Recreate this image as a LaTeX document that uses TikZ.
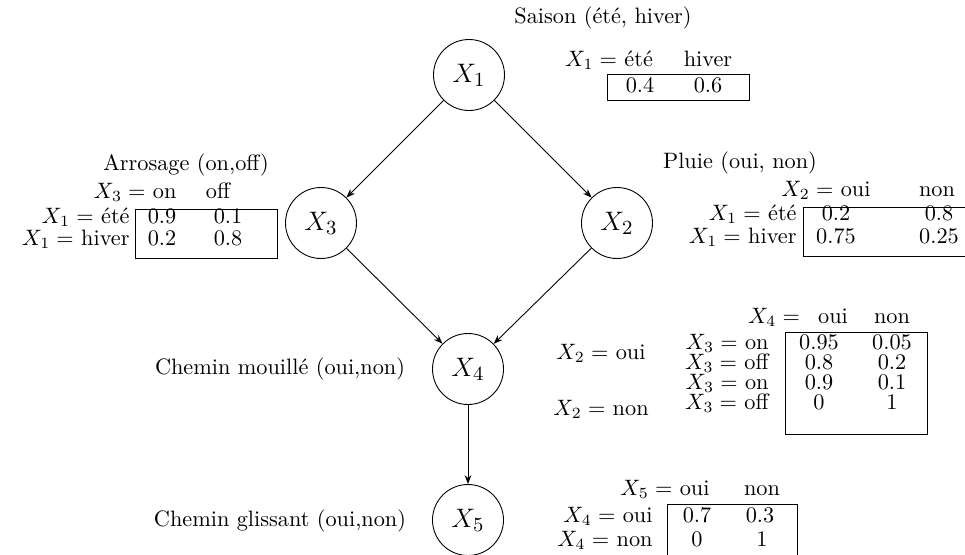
\documentclass[tikz,border=0pt]{standalone}
\usetikzlibrary{arrows.meta}
\begin{document}
\begin{tikzpicture}[x=0.449pt,y=-0.449pt,
  var/.style={circle,draw,minimum size=71*0.449pt,inner sep=0pt,font=\fontsize{13.2}{16}\selectfont},
  lbl/.style={inner sep=0pt,anchor=center,text height=6.9pt,text depth=2pt},
  rowlbl/.style={lbl,anchor=east},
  tbox/.style={draw,line width=0.4pt},
  edge/.style={-{Stealth[length=4pt,width=3pt]},line width=0.4pt}]
\useasboundingbox (0,0) rectangle (965,554);
% variables
\node[var] (x1) at (469,75) {$X_1$};
\node[var] (x3) at (321,223) {$X_3$};
\node[var] (x2) at (617,223) {$X_2$};
\node[var] (x4) at (468,369) {$X_4$};
\node[var] (x5) at (468,520) {$X_5$};
\draw[edge] (x1) -- (x3);
\draw[edge] (x1) -- (x2);
\draw[edge] (x3) -- (x4);
\draw[edge] (x2) -- (x4);
\draw[edge] (x4) -- (x5);
% X1 table
\node[lbl] (t1) at (603,18) {Saison (été, hiver)};
\node[lbl] (h1a) at (609,61) {$X_1=$ été};
\node[lbl] (h1b) at (708,61) {hiver};
\draw[tbox] (607,74) rectangle (749,100);
\node[lbl] (v1a) at (640,87) {0.4};
\node[lbl] (v1b) at (708,87) {0.6};
% X3 table
\node[lbl] (t3) at (186,165) {Arrosage (on,off)};
\node[lbl] (h3a) at (135,193) {$X_3=$ on};
\node[lbl] (h3b) at (218,193) {off};
\node[rowlbl] (r3a) at (130,218) {$X_1=$ été};
\node[rowlbl] (r3b) at (130,240) {$X_1=$ hiver};
\draw[tbox] (135,209) rectangle (277,258);
\node[lbl] (v3a) at (162,218) {0.9};
\node[lbl] (v3b) at (228,218) {0.1};
\node[lbl] (v3c) at (162,240) {0.2};
\node[lbl] (v3d) at (228,240) {0.8};
% X2 table
\node[lbl] (t2) at (740,163) {Pluie (oui, non)};
\node[lbl] (h2a) at (826,191) {$X_2=$ oui};
\node[lbl] (h2b) at (937,191) {non};
\node[rowlbl] (r2a) at (797,215) {$X_1=$ été};
\node[rowlbl] (r2b) at (797,238) {$X_1=$ hiver};
\draw[tbox] (975,207) -- (803,207) -- (803,256) -- (975,256);
\node[lbl] (v2a) at (836,215) {0.2};
\node[lbl] (v2b) at (939,215) {0.8};
\node[lbl] (v2c) at (836,238) {0.75};
\node[lbl] (v2d) at (939,238) {0.25};
% X4 table
\node[lbl] (t4) at (280,369) {Chemin mouillé (oui,non)};
\node[lbl] (h4a) at (774,318) {$X_4=$};
\node[lbl] (h4b) at (833,318) {oui};
\node[lbl] (h4c) at (892,318) {non};
\node[lbl] (p4a) at (601,354) {$X_2=$ oui};
\node[lbl] (p4b) at (601,410) {$X_2=$ non};
\node[rowlbl] (r4a) at (769,344) {$X_3=$ on};
\node[rowlbl] (r4b) at (769,364) {$X_3=$ off};
\node[rowlbl] (r4c) at (769,384) {$X_3=$ on};
\node[rowlbl] (r4d) at (769,404) {$X_3=$ off};
\draw[tbox] (785,332) rectangle (927,434);
\node[lbl] (v4a) at (819,344) {0.95};
\node[lbl] (v4b) at (892,344) {0.05};
\node[lbl] (v4c) at (819,364) {0.8};
\node[lbl] (v4d) at (892,364) {0.2};
\node[lbl] (v4e) at (819,384) {0.9};
\node[lbl] (v4f) at (892,384) {0.1};
\node[lbl] (v4g) at (819,404) {0};
\node[lbl] (v4h) at (892,404) {1};
% X5 table
\node[lbl] (t5) at (280,521) {Chemin glissant (oui,non)};
\node[lbl] (h5a) at (665,490) {$X_5=$ oui};
\node[lbl] (h5b) at (762,490) {non};
\node[rowlbl] (r5a) at (653,517) {$X_4=$ oui};
\node[rowlbl] (r5b) at (653,541) {$X_4=$ non};
\draw[tbox] (667,565) -- (667,504) -- (797,504) -- (797,565);
\node[lbl] (v5a) at (697,517) {0.7};
\node[lbl] (v5b) at (760,517) {0.3};
\node[lbl] (v5c) at (697,541) {0};
\node[lbl] (v5d) at (762,541) {1};
\end{tikzpicture}
\end{document}
